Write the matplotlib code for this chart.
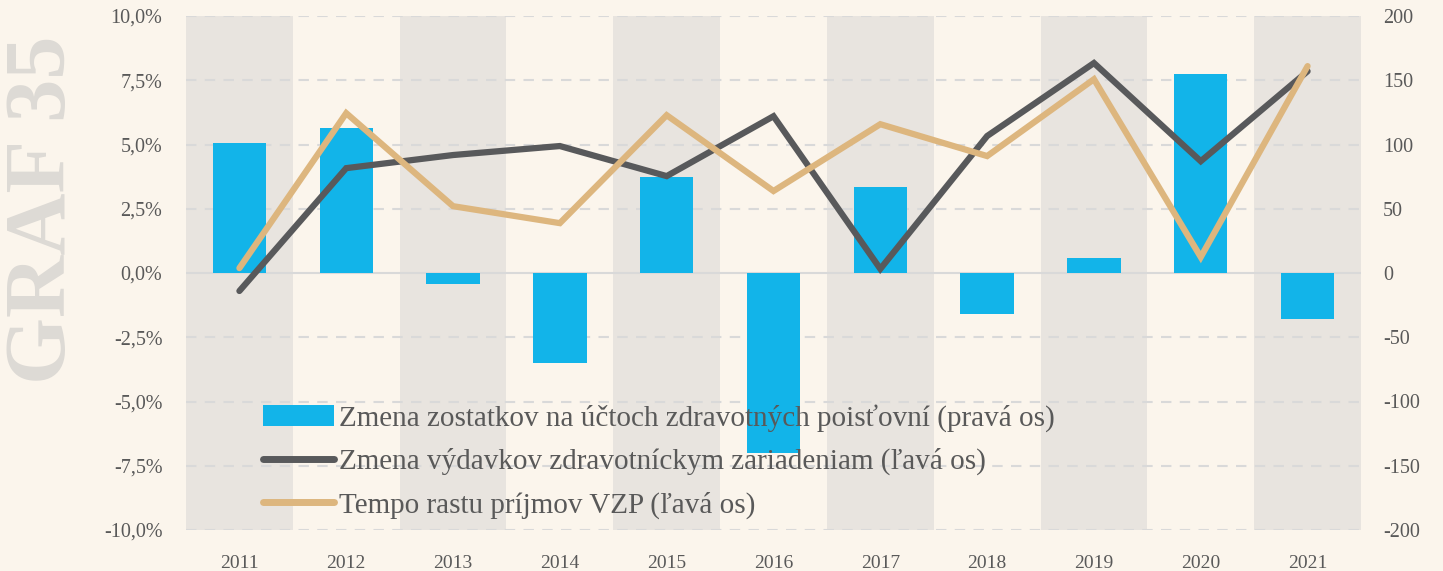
import matplotlib
matplotlib.use("Agg")
import matplotlib.pyplot as plt
from matplotlib.ticker import FuncFormatter
from matplotlib.lines import Line2D
from matplotlib.patches import Patch

years = ["2011", "2012", "2013", "2014", "2015", "2016", "2017", "2018", "2019", "2020", "2021"]
zostatky = [101, 113, -8.5, -70, 75, -140, 67, -32, 12, 155, -36]
vydavky = [-0.70, 4.08, 4.59, 4.94, 3.77, 6.10, 0.16, 5.33, 8.17, 4.35, 7.85]
prijmy = [0.19, 6.22, 2.60, 1.94, 6.14, 3.19, 5.79, 4.55, 7.54, 0.62, 8.05]
left_ticks = [-10, -7.5, -5, -2.5, 0, 2.5, 5, 7.5, 10]
right_ticks = [-200, -150, -100, -50, 0, 50, 100, 150, 200]

labels = ["Zmena zostatkov na účtoch zdravotných poisťovní (pravá os)",
          "Zmena výdavkov zdravotníckym zariadeniam (ľavá os)",
          "Tempo rastu príjmov VZP (ľavá os)"]

BG = "#FBF5EC"
BAND = "#E8E4DF"
BLUE = "#12B4E9"
DARK = "#58595B"
TAN = "#DDB67E"
TXT = "#595959"
GRID = "#D9D9D9"

plt.rcParams['font.family'] = ['Liberation Serif', 'DejaVu Serif']
plt.rcParams['axes.unicode_minus'] = False

fig = plt.figure(figsize=(14.43, 5.71), dpi=100, facecolor=BG)
ax = fig.add_axes([186/1443, 1-530/571, (1361-186)/1443, (530-16)/571])
ax.set_facecolor(BG)
ax2 = ax.twinx()

x = list(range(len(years)))
for i in x:
    if i % 2 == 0:
        ax.axvspan(i-0.5, i+0.5, color=BAND, zorder=0, lw=0)

ax.set_ylim(-10, 10)
ax.set_xlim(-0.5, len(years)-0.5)
ax2.set_ylim(-200, 200)
ax.set_yticks(left_ticks)
ax2.set_yticks(right_ticks)
for t in left_ticks:
    if t == 0:
        ax.axhline(0, color=GRID, lw=1.5, zorder=1)
    else:
        ax.axhline(t, color=GRID, lw=1.5, ls=(0, (5, 4)), zorder=1)

ax2.bar(x, zostatky, width=0.5, color=BLUE, zorder=2)
ax2.set_zorder(ax.get_zorder()+1)
ax2.patch.set_visible(False)

ax3 = ax.twinx()
ax3.set_ylim(-10, 10)
ax3.set_zorder(ax2.get_zorder()+1)
ax3.patch.set_visible(False)
ax3.plot(x, vydavky, color=DARK, lw=4.5, solid_capstyle='round', solid_joinstyle='miter', zorder=3)
ax3.plot(x, prijmy, color=TAN, lw=4.5, solid_capstyle='round', solid_joinstyle='miter', zorder=4)
ax3.set_yticks([])
for a in (ax, ax2, ax3):
    for s in a.spines.values():
        s.set_visible(False)

ax.yaxis.set_major_formatter(FuncFormatter(lambda v, p: (f"{v:.1f}%").replace(".", ",")))
ax2.yaxis.set_major_formatter(FuncFormatter(lambda v, p: f"{v:.0f}"))
ax.tick_params(axis='y', length=0, pad=17, labelsize=14.5, labelcolor=TXT)
ax2.tick_params(axis='y', length=0, pad=16, labelsize=14.5, labelcolor=TXT)
ax.set_xticks(x)
ax.set_xticklabels(years)
ax.tick_params(axis='x', length=0, pad=18, labelsize=14, labelcolor=TXT)

handles = [Patch(facecolor=BLUE, edgecolor='none'),
           Line2D([0], [0], color=DARK, lw=5, solid_capstyle='round'),
           Line2D([0], [0], color=TAN, lw=5, solid_capstyle='round')]
leg = ax3.legend(handles, labels, loc='upper left',
                 bbox_to_anchor=((263-186)/1175, (530-404)/514),
                 frameon=False, fontsize=21, labelcolor=TXT, handlelength=2.45,
                 handletextpad=0.15, labelspacing=0.55, borderaxespad=0, borderpad=0)
leg.set_zorder(10)

fig.text(45/1443, 1-210/571, "GRAF 35", rotation=90, fontsize=62, fontweight='bold',
         color="#DDDAD5", ha='center', va='center')

fig.savefig("out.png", dpi=100, facecolor=BG)
